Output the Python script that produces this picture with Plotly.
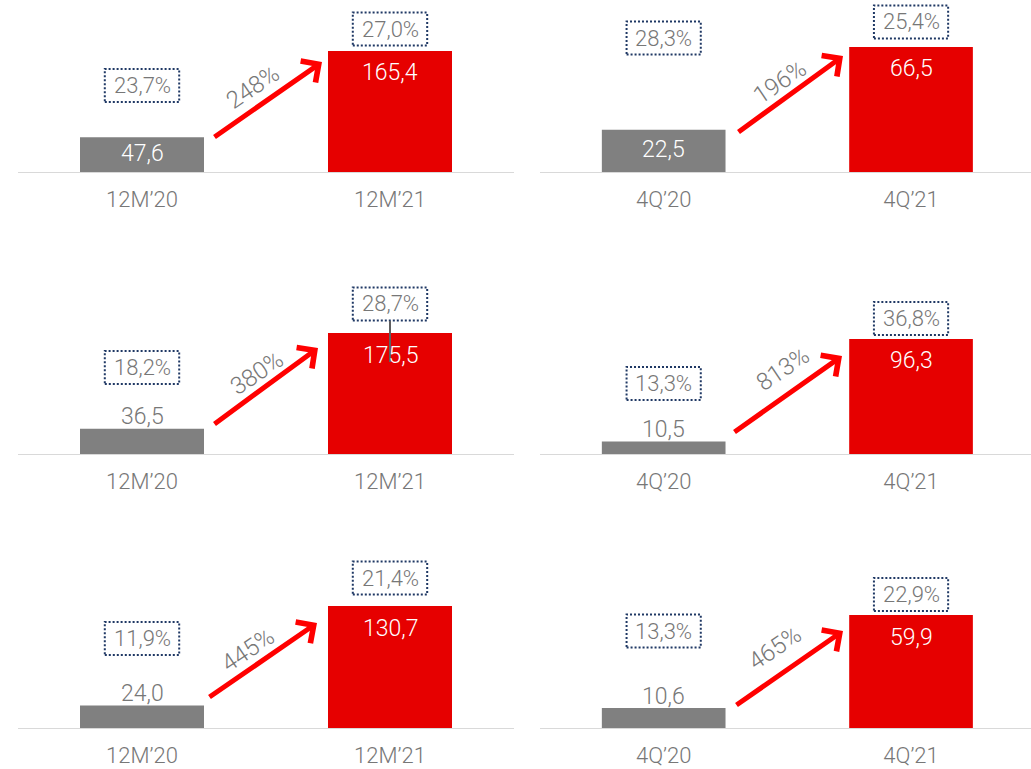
import plotly.graph_objects as go

# ---- data -------------------------------------------------------------
periods_12m = ["12M’20", "12M’21"]
periods_4q = ["4Q’20", "4Q’21"]
panel_periods = [periods_12m, periods_4q, periods_12m, periods_4q, periods_12m, periods_4q]

values_2020 = [47.6, 22.5, 36.5, 10.5, 24.0, 10.6]
values_2021 = [165.4, 66.5, 175.5, 96.3, 130.7, 59.9]
margin_2020 = ["23,7%", "28,3%", "18,2%", "13,3%", "11,9%", "13,3%"]
margin_2021 = ["27,0%", "25,4%", "28,7%", "36,8%", "21,4%", "22,9%"]
growth = ["248%", "196%", "380%", "813%", "445%", "465%"]

# ---- layout constants (pixels in a 1031 x 769 page) ---------------------
W, H = 1031, 769
GREY = "#808080"
RED = "#E60000"
ARROW_RED = "#FF0000"
TEXT_GREY = "#777777"
NAVY = "#1F3864"
FONT = "Roboto"

col_px = [(18, 514, [-0.5, 1.5]), (540, 1031, [-0.5, 1.485])]
row_px = [(0, 172), (282, 454), (556, 728)]
y_top = [235.1, 91.5, 249.5, 144.0, 184.3, 91.2]

# margin boxes: pixel y centre for 2020 / 2021 box of each panel
box20_y = [85.5, 38, 367.5, 383.5, 638.5, 631]
box21_y = [29, 22, 304, 318.5, 578, 594.5]
box_half_w, box_half_h = 0.15, 16.5

# growth arrows: (tail_x, tail_y, head_x, head_y) and label centre, in pixels
arrows = [
    (213, 138, 322, 62), (737, 133, 843, 56),
    (213, 425, 318, 348), (733, 433, 842, 356),
    (208, 698, 317, 623), (735, 706, 843, 631),
]
growth_xy = [(253, 87), (780, 82), (257, 373), (783, 369), (248, 650), (775, 648)]


def px_x(v):
    return v / W


def px_y(v):
    return 1 - v / H


def fmt(v):
    return f"{v:.1f}".replace(".", ",")


fig = go.Figure()
annotations = []
shapes = []

for i in range(6):
    r, c = divmod(i, 2)
    n = i + 1
    xa = "x" if n == 1 else f"x{n}"
    ya = "y" if n == 1 else f"y{n}"
    cats = panel_periods[i]

    fig.add_trace(go.Bar(
        x=cats, y=[values_2020[i], values_2021[i]],
        marker=dict(color=[GREY, RED], line=dict(width=0)),
        width=0.5, xaxis=xa, yaxis=ya, showlegend=False, hoverinfo="skip",
    ))

    x0, x1, xr = col_px[c]
    y0, y1 = row_px[r]
    ax_key = "xaxis" if n == 1 else f"xaxis{n}"
    ay_key = "yaxis" if n == 1 else f"yaxis{n}"
    fig.update_layout(**{
        ax_key: dict(
            domain=[px_x(x0), px_x(x1)], range=xr, anchor=ya,
            type="category", showgrid=False, zeroline=False,
            showline=True, linecolor="#D9D9D9", linewidth=1,
            ticks="", tickfont=dict(family=FONT, size=22, color=TEXT_GREY, weight=300),
            ticklabelstandoff=8, fixedrange=True,
        ),
        ay_key: dict(
            domain=[px_y(y1), px_y(y0)], range=[0, y_top[i]], anchor=xa,
            visible=False, fixedrange=True,
        ),
    })

    # value labels
    v20, v21 = values_2020[i], values_2021[i]
    big20 = v20 / y_top[i] * (y1 - y0) > 30
    annotations.append(dict(
        xref=xa, yref=ya, x=0, y=(v20 / 2 if big20 else v20),
        yshift=(1 if big20 else 12), text=fmt(v20), showarrow=False,
        font=dict(family=FONT, size=23, color="white" if big20 else TEXT_GREY, weight=300),
        xanchor="center", yanchor="middle",
    ))
    annotations.append(dict(
        xref=xa, yref=ya, x=1, y=v21, yshift=-22, text=fmt(v21), showarrow=False,
        font=dict(family=FONT, size=23, color="white", weight=300),
        xanchor="center", yanchor="middle",
    ))

    # dotted margin boxes
    for k, (label, yc) in enumerate([(margin_2020[i], box20_y[i]), (margin_2021[i], box21_y[i])]):
        shapes.append(dict(
            type="rect", xref=xa, yref="paper",
            x0=k - box_half_w, x1=k + box_half_w,
            y0=px_y(yc + box_half_h), y1=px_y(yc - box_half_h),
            line=dict(color=NAVY, width=2, dash="2px,2px"), fillcolor="rgba(0,0,0,0)",
            layer="above",
        ))
        annotations.append(dict(
            xref=xa, yref="paper", x=k, y=px_y(yc), text=label, showarrow=False,
            font=dict(family=FONT, size=22, color=TEXT_GREY, weight=300),
            xanchor="center", yanchor="middle",
        ))

    # growth arrow and rotated label
    tx, ty, hx, hy = arrows[i]
    annotations.append(dict(
        xref="paper", yref="paper", x=px_x(hx), y=px_y(hy),
        axref="pixel", ayref="pixel", ax=tx - hx, ay=ty - hy,
        showarrow=True, arrowhead=4, arrowsize=1.0, arrowwidth=5,
        arrowcolor=ARROW_RED, text="", standoff=0,
    ))
    gx, gy = growth_xy[i]
    annotations.append(dict(
        xref="paper", yref="paper", x=px_x(gx), y=px_y(gy), text=growth[i],
        showarrow=False, textangle=-34,
        font=dict(family=FONT, size=24, color=TEXT_GREY, weight=300),
        xanchor="center", yanchor="middle",
    ))

# connector line drawn from the 28,7% box down into its bar
shapes.append(dict(
    type="line", xref="paper", yref="paper",
    x0=px_x(390), x1=px_x(390), y0=px_y(321), y1=px_y(362),
    line=dict(color="#5F5F5F", width=2), layer="above",
))

fig.update_layout(
    width=W, height=H, margin=dict(l=0, r=0, t=0, b=0),
    paper_bgcolor="white", plot_bgcolor="white",
    annotations=annotations, shapes=shapes, bargap=0.5,
    font=dict(family=FONT, color=TEXT_GREY),
)

fig.write_html("out.html", config={"displayModeBar": False})
